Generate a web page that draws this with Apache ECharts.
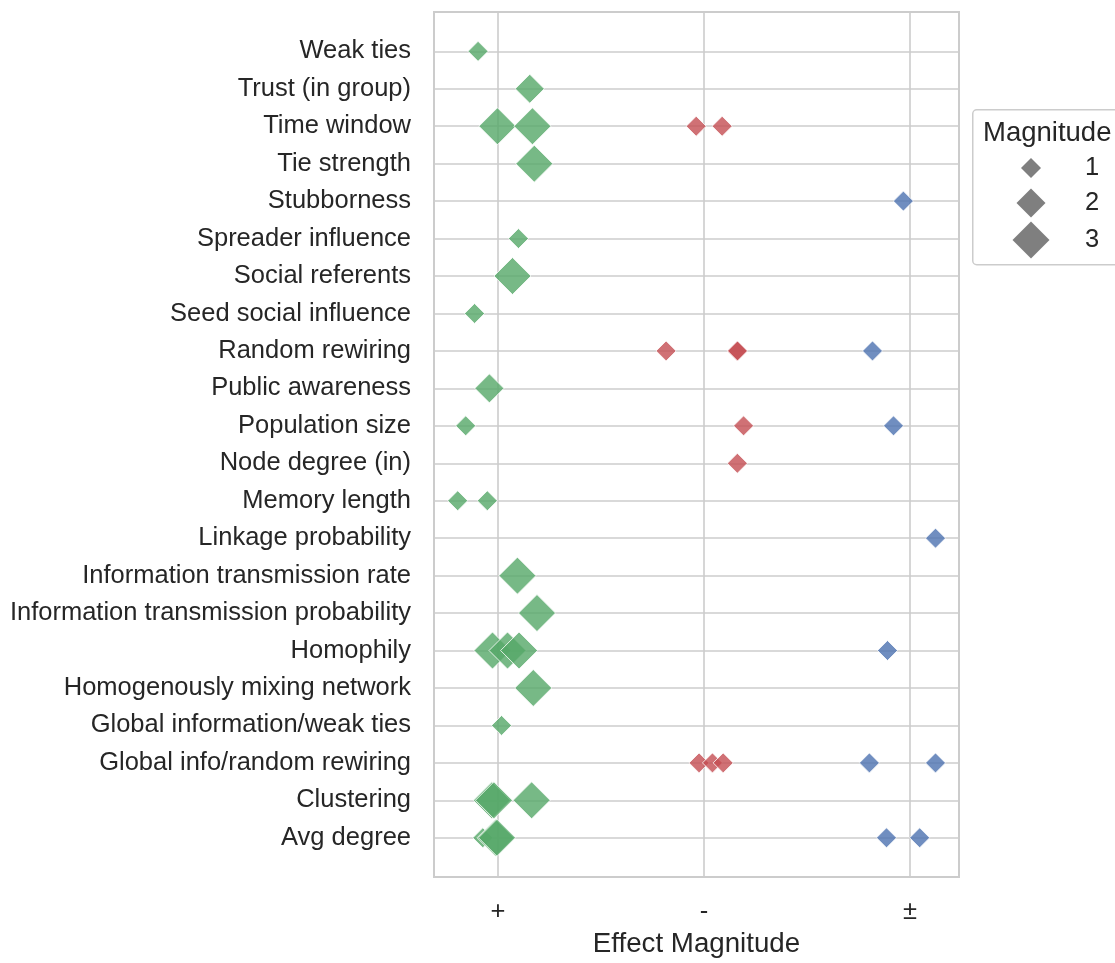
<!DOCTYPE html>
<html lang="en">
<head>
    <meta charset="utf-8">
    <title>Effect Magnitude</title>
    <script src="https://cdn.jsdelivr.net/npm/echarts@6/dist/echarts.min.js"></script>
    <style>
        html, body {margin: 0; padding: 0; background: #fff; overflow: hidden;}
        #main {width: 1115px; height: 963px;}
    </style>
</head>
<body>
<div id="main"></div>
<script type="text/javascript">

    // rows, top to bottom
    var categories = ['Weak ties', 'Trust (in group)', 'Time window', 'Tie strength', 'Stubborness',
        'Spreader influence', 'Social referents', 'Seed social influence', 'Random rewiring',
        'Public awareness', 'Population size', 'Node degree (in)', 'Memory length',
        'Linkage probability', 'Information transmission rate', 'Information transmission probability',
        'Homophily', 'Homogenously mixing network', 'Global information/weak ties',
        'Global info/random rewiring', 'Clustering', 'Avg degree'];

    var effectLabels = ['+', '-', '±'];
    var magnitudes = ['1', '2', '3'];

    // [x position (0 = +, 1 = -, 2 = ±, with jitter), row index, magnitude]
    var positivePts = [
        [-0.097, 0, 1],
        [0.154, 1, 2],
        [-0.003, 2, 3], [0.167, 2, 3],
        [0.176, 3, 3],
        [0.099, 5, 1],
        [0.070, 6, 3],
        [-0.114, 7, 1],
        [-0.042, 9, 2],
        [-0.157, 10, 1],
        [-0.196, 12, 1], [-0.052, 12, 1],
        [0.094, 14, 3],
        [0.189, 15, 3],
        [-0.027, 16, 3], [0.046, 16, 3], [0.102, 16, 3],
        [0.171, 17, 3],
        [0.017, 18, 1],
        [-0.030, 20, 3], [-0.020, 20, 3], [0.163, 20, 3],
        [-0.074, 21, 1], [-0.012, 21, 3], [-0.005, 21, 3]
    ];
    var negativePts = [
        [0.962, 2, 1], [1.088, 2, 1],
        [0.816, 8, 1], [1.160, 8, 1], [1.163, 8, 1],
        [1.192, 10, 1],
        [1.162, 11, 1],
        [0.976, 19, 1], [1.041, 19, 1], [1.093, 19, 1]
    ];
    var mixedPts = [
        [1.968, 4, 1],
        [1.818, 8, 1],
        [1.920, 10, 1],
        [2.124, 13, 1],
        [1.891, 16, 1],
        [1.803, 19, 1], [2.124, 19, 1],
        [1.886, 21, 1], [2.047, 21, 1]
    ];

    var sizeByMag = {1: 20, 2: 29, 3: 37};
    var font = "'Liberation Sans', Arial, sans-serif";
    var textColor = '#262626';
    var gridColor = '#cccccc';
    var legendGray = '#7f7f7f';

    function rowValues() {
        var v = [];
        for (var i = 0; i < categories.length; i++) v.push(i);
        return v;
    }

    function pointSeries(name, color, pts) {
        return {
            name: name,
            type: 'scatter',
            symbol: 'diamond',
            symbolSize: function (d) { return sizeByMag[d[2]]; },
            itemStyle: {color: color, opacity: 0.8, borderColor: '#ffffff', borderWidth: 1},
            emphasis: {disabled: true},
            data: pts
        };
    }

    var legendIcons = [20, 29, 37];
    var legendCenters = [168, 203, 240];
    var legends = magnitudes.map(function (m, i) {
        var w = legendIcons[i];
        var h = Math.max(w, 26);
        return {
            data: [m],
            left: 1031 - w / 2,
            top: legendCenters[i] - h / 2,
            padding: 0,
            icon: 'diamond',
            itemWidth: w,
            itemHeight: w,
            selectedMode: false,
            itemStyle: {color: legendGray, opacity: 1},
            textStyle: {fontFamily: font, fontSize: 25.5, color: textColor, padding: [0, 0, 0, 1085 - (1031 + w / 2 + 5)]}
        };
    });

    var myChart = echarts.init(document.getElementById('main'));
    var option = {
        animation: false,
        backgroundColor: '#ffffff',
        grid: {
            left: 434, right: 156, top: 12, bottom: 80,
            show: true, borderColor: gridColor, borderWidth: 2
        },
        legend: legends,
        graphic: [
            {
                type: 'rect', left: 972, top: 109, z: -1,
                shape: {width: 170, height: 155, r: 4},
                style: {fill: '#ffffff', stroke: gridColor, lineWidth: 1.5}
            },
            {
                type: 'text', left: 983, top: 119,
                style: {text: 'Magnitude', font: '27.5px ' + font, fill: textColor}
            }
        ],
        xAxis: {
            type: 'value',
            min: -0.311,
            max: 2.238,
            name: 'Effect Magnitude',
            nameLocation: 'middle',
            nameGap: 52,
            nameTextStyle: {fontFamily: font, fontSize: 27.7, color: textColor},
            axisLine: {show: false},
            axisTick: {show: false, customValues: [0, 1, 2]},
            axisLabel: {
                customValues: [0, 1, 2],
                margin: 22,
                fontFamily: font, fontSize: 25.5, color: textColor,
                formatter: function (v) { return effectLabels[Math.round(v)]; }
            },
            splitLine: {show: true, lineStyle: {color: gridColor, width: 1.6}}
        },
        yAxis: {
            type: 'value',
            inverse: true,
            min: -1.05,
            max: 22.05,
            axisLine: {show: false},
            axisTick: {show: false, customValues: rowValues()},
            axisLabel: {
                customValues: rowValues(),
                margin: 23,
                fontFamily: font, fontSize: 25.5, color: textColor,
                formatter: function (v) { return categories[Math.round(v)]; }
            },
            splitLine: {show: true, lineStyle: {color: gridColor, width: 1.6}}
        },
        series: [
            pointSeries('+', '#55a868', positivePts),
            pointSeries('-', '#c44e52', negativePts),
            pointSeries('±', '#4c72b0', mixedPts),
            {name: '1', type: 'scatter', symbol: 'diamond', itemStyle: {color: legendGray}, data: []},
            {name: '2', type: 'scatter', symbol: 'diamond', itemStyle: {color: legendGray}, data: []},
            {name: '3', type: 'scatter', symbol: 'diamond', itemStyle: {color: legendGray}, data: []}
        ]
    };
    myChart.setOption(option);

</script>
</body>
</html>
